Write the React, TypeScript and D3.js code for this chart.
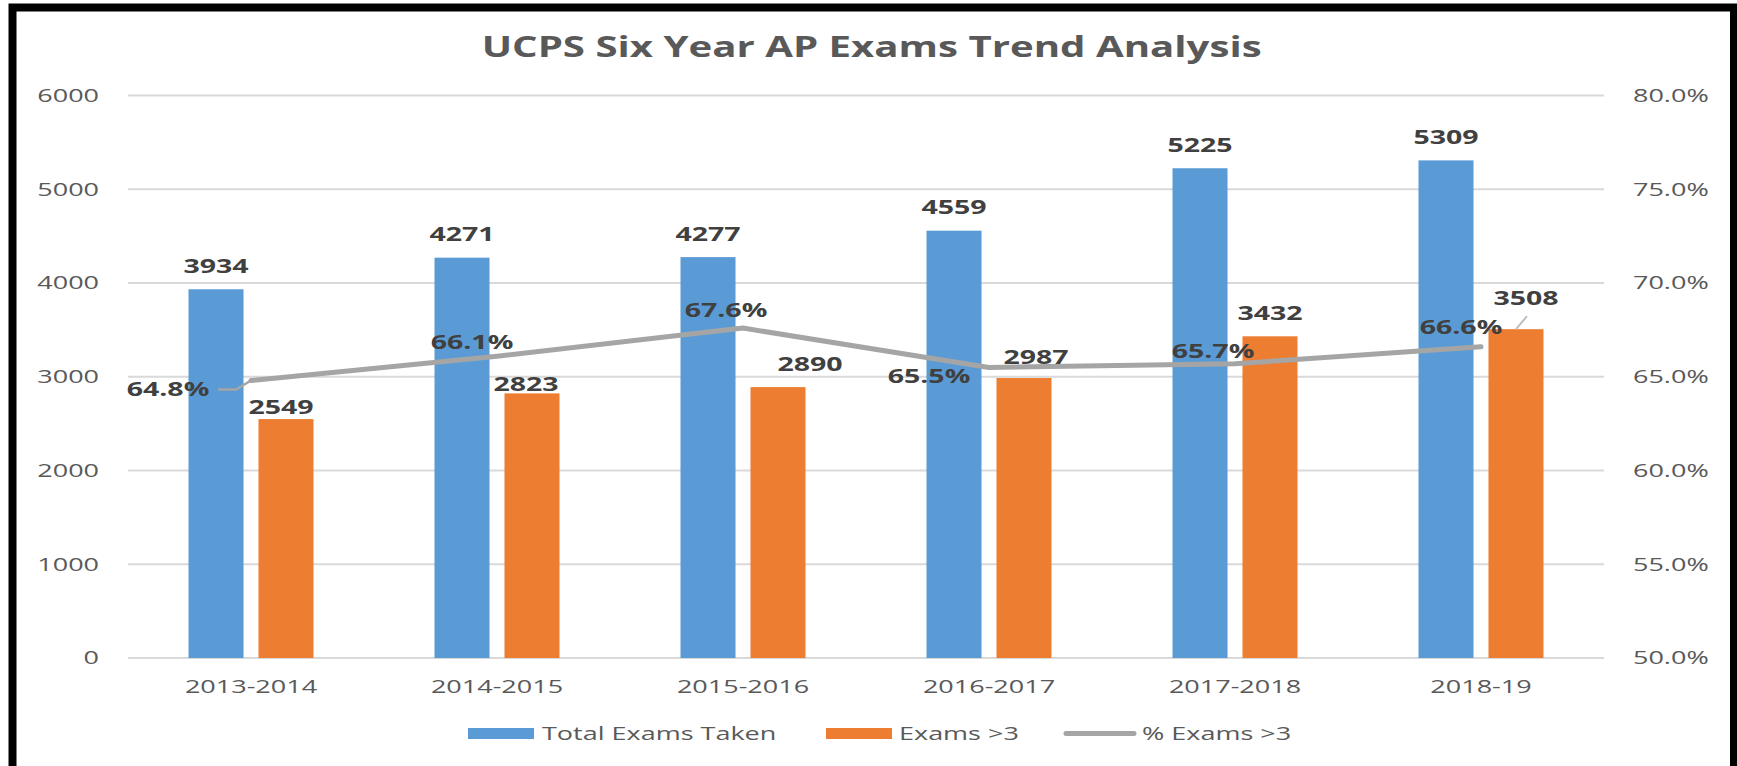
import * as d3 from "d3";

const years = ["2013-2014", "2014-2015", "2015-2016", "2016-2017", "2017-2018", "2018-19"];
const totalExams = [3934, 4271, 4277, 4559, 5225, 5309];
const examsOver3 = [2549, 2823, 2890, 2987, 3432, 3508];
const pctOver3 = [0.648, 0.661, 0.676, 0.655, 0.657, 0.666];
const leftTicks = [0, 1000, 2000, 3000, 4000, 5000, 6000];
const rightTicks = [0.5, 0.55, 0.6, 0.65, 0.7, 0.75, 0.8];
const seriesNames = ["Total Exams Taken", "Exams >3", "% Exams >3"];

// labels that were dragged by hand in the original chart (dx, dy)
const passLabelShift = [[-5, 11], [-6, 14], [32, 0], [12, 2], [0, 0], [10, -8]];
const pctLabelShift = [[-83, 9], [-25, -14], [-17, -18], [-60, 9], [-22, -12], [-20, -20]];

const W = 1737;
const H = 766;
const BLUE = "#5b9bd5";
const ORANGE = "#ed7d31";
const GRAY = "#a5a5a5";
const FONT = "'Open Sans', sans-serif";
const SX = 1.5; // the original picture is stretched sideways

const Txt = ({ x, y, size, bold, fill, anchor, children }: any) => (
  <text
    transform={`translate(${x},${y}) scale(${SX},1)`}
    fontFamily={FONT}
    fontSize={size}
    fontWeight={bold ? 700 : 400}
    fill={fill}
    textAnchor={anchor}
  >
    {children}
  </text>
);

export default function App() {
  const x0 = d3.scaleBand().domain(years).range([128, 1604]).padding(0);
  const band = x0.bandwidth();
  const x1 = d3
    .scaleBand()
    .domain(["total", "pass"])
    .range([band / 2 - 62.5, band / 2 + 62.5])
    .paddingInner(0.214);
  const yL = d3.scaleLinear().domain([0, 6000]).range([658, 95.6]);
  const yR = d3.scaleLinear().domain([0.5, 0.8]).range([658, 95.6]);
  const cx = (d: string) => (x0(d) as number) + band / 2;

  const line = d3
    .line<number>()
    .x((_, i) => cx(years[i]))
    .y((v) => yR(v));

  const pctFmt = d3.format(".1%");
  const bw = x1.bandwidth();

  // legend layout
  const legY = 733.5;

  return (
    <svg
      width={W}
      height={H}
      style={{ position: "absolute", left: 0, top: 0, background: "#fff" }}
    >
      <rect x={12.5} y={7.5} width={1721.5} height={820} fill="#fff" stroke="#000" strokeWidth={8} />

      <text
        x={871.7}
        y={56.5}
        textAnchor="middle"
        fontFamily={FONT}
        fontSize={29}
        fontWeight={700}
        fill="#595959"
        textLength={780}
        lengthAdjust="spacingAndGlyphs"
      >
        UCPS Six Year AP Exams Trend Analysis
      </text>

      {/* gridlines */}
      {leftTicks.map((t) => (
        <line key={t} x1={128} x2={1604} y1={yL(t)} y2={yL(t)} stroke="#d9d9d9" strokeWidth={2} />
      ))}

      {/* left axis */}
      {leftTicks.map((t) => (
        <Txt key={t} x={99} y={yL(t) + 6.3} size={18} fill="#595959" anchor="end">
          {t}
        </Txt>
      ))}
      {/* right axis */}
      {rightTicks.map((t) => (
        <Txt key={t} x={1633} y={yR(t) + 6.3} size={18} fill="#595959" anchor="start">
          {pctFmt(t)}
        </Txt>
      ))}

      {/* bars */}
      {years.map((yr, i) => (
        <g key={yr} transform={`translate(${x0(yr)},0)`}>
          <rect x={x1("total")} y={yL(totalExams[i])} width={bw} height={yL(0) - yL(totalExams[i])} fill={BLUE} />
          <rect x={x1("pass")} y={yL(examsOver3[i])} width={bw} height={yL(0) - yL(examsOver3[i])} fill={ORANGE} />
        </g>
      ))}

      {/* category labels */}
      {years.map((yr) => (
        <Txt key={yr} x={cx(yr)} y={692.5} size={18} fill="#595959" anchor="middle">
          {yr}
        </Txt>
      ))}

      {/* % line */}
      <path d={line(pctOver3) as string} fill="none" stroke={GRAY} strokeWidth={5} strokeLinejoin="round" strokeLinecap="round" />

      {/* leader lines */}
      <polyline
        points={`${cx(years[0]) + pctLabelShift[0][0] + 50},${yR(pctOver3[0]) + pctLabelShift[0][1]} ${cx(years[0]) - 15},${yR(pctOver3[0]) + pctLabelShift[0][1]} ${cx(years[0])},${yR(pctOver3[0])}`}
        fill="none"
        stroke={GRAY}
        strokeWidth={2.5}
      />
      <line
        x1={(x0(years[5]) as number) + (x1("pass") as number) + bw / 2 + 11}
        y1={yL(examsOver3[5]) - 13}
        x2={(x0(years[5]) as number) + (x1("pass") as number) + bw / 2}
        y2={yL(examsOver3[5])}
        stroke="#bfbfbf"
        strokeWidth={2}
      />

      {/* data labels */}
      {years.map((yr, i) => {
        const bx = x0(yr) as number;
        return (
          <g key={yr}>
            <Txt x={bx + (x1("total") as number) + bw / 2} y={yL(totalExams[i]) - 16.3} size={19} bold fill="#404040" anchor="middle">
              {totalExams[i]}
            </Txt>
            <Txt
              x={bx + (x1("pass") as number) + bw / 2 + passLabelShift[i][0]}
              y={yL(examsOver3[i]) - 16.3 + passLabelShift[i][1]}
              size={19}
              bold
              fill="#404040"
              anchor="middle"
            >
              {examsOver3[i]}
            </Txt>
            <Txt
              x={cx(yr) + pctLabelShift[i][0]}
              y={yR(pctOver3[i]) + pctLabelShift[i][1] + 6.8}
              size={19}
              bold
              fill="#404040"
              anchor="middle"
            >
              {pctFmt(pctOver3[i])}
            </Txt>
          </g>
        );
      })}

      {/* legend */}
      <rect x={468} y={legY - 5.5} width={66} height={11} fill={BLUE} />
      <Txt x={542} y={legY + 6.3} size={18} fill="#595959" anchor="start">
        {seriesNames[0]}
      </Txt>
      <rect x={826} y={legY - 5.5} width={66} height={11} fill={ORANGE} />
      <Txt x={899} y={legY + 6.3} size={18} fill="#595959" anchor="start">
        {seriesNames[1]}
      </Txt>
      <line x1={1066} x2={1134} y1={legY} y2={legY} stroke={GRAY} strokeWidth={5} strokeLinecap="round" />
      <Txt x={1142} y={legY + 6.3} size={18} fill="#595959" anchor="start">
        {seriesNames[2]}
      </Txt>
    </svg>
  );
}
